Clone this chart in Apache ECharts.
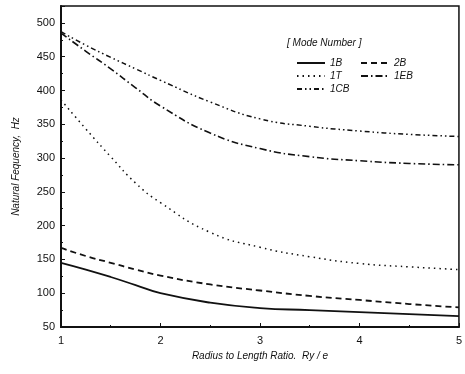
<!DOCTYPE html>
<html>
<head>
<meta charset="utf-8">
<script src="https://cdn.jsdelivr.net/npm/echarts@6/dist/echarts.min.js"></script>
<style>
html,body{margin:0;padding:0;background:#fff;}
#c{width:465px;height:374px;}
</style>
</head>
<body>
<div id="c"></div>
<script>
// Radius to length ratio (x values)
var ratio = [1, 1.25, 1.5, 1.75, 2, 2.5, 3, 3.5, 4, 4.5, 5];
// Natural frequency (Hz) per mode
var mode1B  = [145, 135, 124, 112, 100, 86, 78, 75, 72, 69, 66];
var mode2B  = [167, 155, 145, 135, 126, 113, 104, 96, 90, 84, 79];
var mode1T  = [386, 343, 302, 263, 234, 190, 168, 154, 144, 139, 135];
var mode1EB = [485, 458, 432, 404, 377, 337, 314, 302, 296, 292, 290];
var mode1CB = [487, 467, 449, 432, 415, 383, 358, 347, 340, 335, 332];
var xTicks = [1, 2, 3, 4, 5];
var yTicks = [50, 100, 150, 200, 250, 300, 350, 400, 450, 500];
var legendTitle = '[ Mode Number ]';

function pairs(ys){ return ratio.map(function(x,i){ return [x, ys[i]]; }); }

var ink = '#111';
var font = 'Liberation Sans, Arial, sans-serif';

function mk(name, ys, type, w){
  return {
    name: name, type: 'line', data: pairs(ys), smooth: true,
    showSymbol: false, symbol: 'none',
    lineStyle: {color: ink, width: w, type: type},
    itemStyle: {color: ink}
  };
}

var legendText = {fontStyle: 'italic', fontSize: 10, color: ink, fontFamily: font};
var legendItem = {opacity: 0, color: 'rgba(0,0,0,0)', borderWidth: 0};

var chart = echarts.init(document.getElementById('c'), null, {renderer: 'canvas'});
chart.setOption({
  backgroundColor: '#fff',
  animation: false,
  textStyle: {fontFamily: font},
  grid: {left: 61, right: 3, top: 6, bottom: 47, show: true, borderColor: ink, borderWidth: 1.5, backgroundColor: 'transparent'},
  xAxis: {
    type: 'value', min: 1, max: 5, interval: 1,
    name: 'Radius to Length Ratio.  Ry / e', nameLocation: 'middle', nameGap: 19,
    nameTextStyle: {fontStyle: 'italic', fontSize: 10, color: ink, fontFamily: font},
    axisLine: {show: true, lineStyle: {color: ink, width: 2}},
    axisTick: {show: true, inside: true, length: 4, lineStyle: {color: ink, width: 1}},
    minorTick: {show: true, splitNumber: 2, length: 2, lineStyle: {color: ink}},
    axisLabel: {color: ink, fontSize: 11, margin: 8, fontFamily: font,
      formatter: function(v){ return xTicks.indexOf(v) >= 0 ? String(v) : ''; }},
    splitLine: {show: false}
  },
  yAxis: {
    type: 'value', min: 50, max: 525, interval: 50,
    name: 'Natural Fequency,  Hz', nameLocation: 'middle', nameGap: 40,
    nameTextStyle: {fontStyle: 'italic', fontSize: 10, color: ink, fontFamily: font},
    axisLine: {show: true, lineStyle: {color: ink, width: 2}},
    axisTick: {show: true, inside: true, length: 4, lineStyle: {color: ink, width: 1}},
    minorTick: {show: true, splitNumber: 2, length: 2, lineStyle: {color: ink}},
    axisLabel: {color: ink, fontSize: 11, margin: 6, fontFamily: font, showMaxLabel: false,
      formatter: function(v){ return yTicks.indexOf(v) >= 0 ? String(v) : ''; }},
    splitLine: {show: false}
  },
  legend: [
    {data: ['1B', '1T', '1CB'], orient: 'vertical', left: 291, top: 53, itemGap: 3,
     itemWidth: 28, itemHeight: 10, itemStyle: legendItem, textStyle: legendText},
    {data: ['2B', '1EB'], orient: 'vertical', left: 355, top: 53, itemGap: 3,
     itemWidth: 28, itemHeight: 10, itemStyle: legendItem, textStyle: legendText}
  ],
  graphic: [
    {type: 'text', left: 287, top: 38, style: {text: legendTitle, font: 'italic 10px ' + font, fill: ink}}
  ],
  series: [
    mk('1B', mode1B, 'solid', 1.8),
    mk('2B', mode2B, [6, 4], 1.8),
    mk('1T', mode1T, [1.5, 4], 1.5),
    mk('1EB', mode1EB, [7, 3, 1.5, 3], 1.6),
    mk('1CB', mode1CB, [5, 3, 1.5, 3, 1.5, 3], 1.5)
  ]
});
</script>
</body>
</html>
